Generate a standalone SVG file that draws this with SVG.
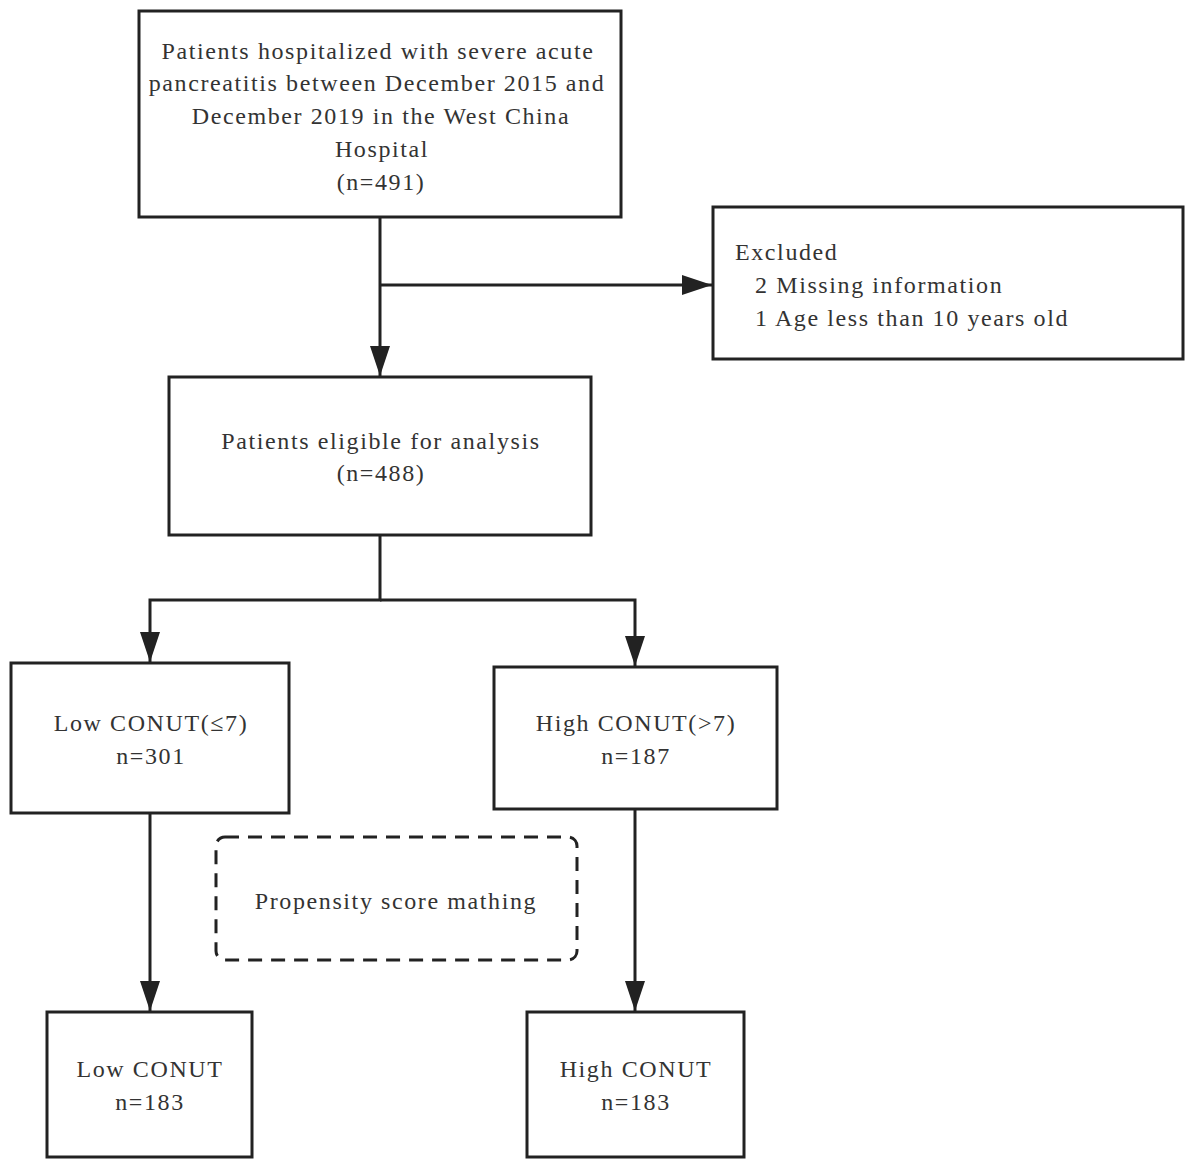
<svg xmlns="http://www.w3.org/2000/svg" width="1193" height="1173" viewBox="0 0 1193 1173">
<style>
.box{fill:#fff;stroke:#222;stroke-width:3}
.dash{fill:none;stroke:#222;stroke-width:3;stroke-dasharray:14,9}
.ln{fill:none;stroke:#222;stroke-width:3}
text{font-family:"Liberation Serif","Times New Roman",serif;font-size:24px;fill:#333;letter-spacing:1.6px}
.c{text-anchor:middle}
</style>
<defs>
<marker id="ah" viewBox="0 0 30 20" refX="30" refY="10" markerWidth="30" markerHeight="20" markerUnits="userSpaceOnUse" orient="auto">
<path d="M0,0 L30,10 L0,20 Z" fill="#222"/>
</marker>
</defs>
<rect width="1193" height="1173" fill="#fff"/>
<g id="connectors">
<path class="ln" d="M380,217 V376" marker-end="url(#ah)"/>
<path class="ln" d="M380,285 H712" marker-end="url(#ah)"/>
<path class="ln" d="M380,535 V600 H150 V662" marker-end="url(#ah)"/>
<path class="ln" d="M380,600 H635 V666" marker-end="url(#ah)"/>
<path class="ln" d="M150,813 V1011" marker-end="url(#ah)"/>
<path class="ln" d="M635,809 V1011" marker-end="url(#ah)"/>
</g>
<g id="start">
<rect class="box" x="139" y="11" width="482" height="206"/>
<text class="c" x="378" y="59">Patients hospitalized with severe acute</text>
<text class="c" x="377" y="91">pancreatitis between December 2015 and</text>
<text class="c" x="381" y="124">December 2019 in the West China</text>
<text class="c" x="382" y="157">Hospital</text>
<text class="c" x="381" y="190">(n=491)</text>
</g>
<g id="excluded">
<rect class="box" x="713" y="207" width="470" height="152"/>
<text x="735" y="260">Excluded</text>
<text x="755" y="293">2 Missing information</text>
<text x="755" y="326">1 Age less than 10 years old</text>
</g>
<g id="eligible">
<rect class="box" x="169" y="377" width="422" height="158"/>
<text class="c" x="381" y="449">Patients eligible for analysis</text>
<text class="c" x="381" y="481">(n=488)</text>
</g>
<g id="low">
<rect class="box" x="11" y="663" width="278" height="150"/>
<text class="c" x="151" y="731">Low CONUT(≤7)</text>
<text class="c" x="151" y="764">n=301</text>
</g>
<g id="high">
<rect class="box" x="494" y="667" width="283" height="142"/>
<text class="c" x="636" y="731">High CONUT(&gt;7)</text>
<text class="c" x="636" y="764">n=187</text>
</g>
<g id="psm">
<rect class="dash" x="216" y="837" width="361" height="123" rx="9"/>
<text class="c" x="396" y="909">Propensity score mathing</text>
</g>
<g id="low2">
<rect class="box" x="47" y="1012" width="205" height="145"/>
<text class="c" x="150" y="1077">Low CONUT</text>
<text class="c" x="150" y="1110">n=183</text>
</g>
<g id="high2">
<rect class="box" x="527" y="1012" width="217" height="145"/>
<text class="c" x="636" y="1077">High CONUT</text>
<text class="c" x="636" y="1110">n=183</text>
</g>
</svg>
